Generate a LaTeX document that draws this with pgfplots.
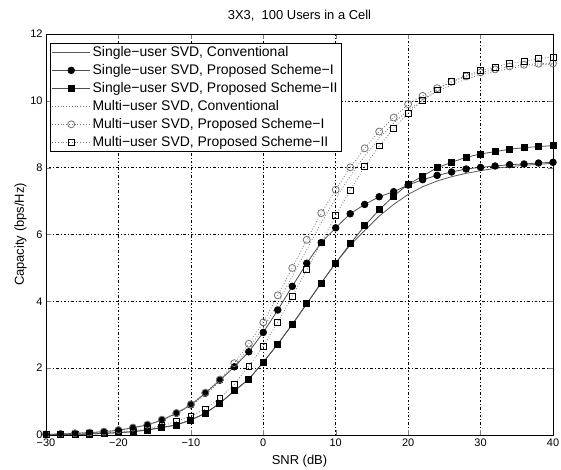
\documentclass[border=0pt]{standalone}
\usepackage{fontspec}
\setmainfont{Liberation Sans}
\usepackage{pgfplots}
\pgfplotsset{compat=1.18}
\begin{document}
\begin{tikzpicture}
\begin{axis}[
 scale only axis, width=507bp, height=401bp,
 xmin=-30, xmax=40, ymin=0, ymax=12,
 xtick={-30,-20,-10,0,10,20,30,40},
 xticklabels={−30,−20,−10,0,10,20,30,40},
 ytick={0,2,4,6,8,10,12},
 tick align=inside, major tick length=5bp,
 axis line style={black, line width=0.6pt},
 grid=major,
 grid style={black, line width=0.5pt, dash pattern=on 1pt off 2pt on 2.5pt off 2pt},
 ticklabel style={font=\fontsize{11}{13}\selectfont},
 /pgf/number format/assume math mode=true,
 title={3X3,\ \ 100 Users in a Cell},
 title style={font=\fontsize{13}{15}\selectfont, yshift=3bp},
 xlabel={SNR (dB)}, ylabel={Capacity (bps/Hz)},
 label style={font=\fontsize{13}{15}\selectfont},
 xlabel style={yshift=-2bp}, ylabel style={yshift=-3bp},
 legend style={at={(0.008,0.978)}, anchor=north west, draw=black, line width=0.6pt,
   font=\fontsize{14}{16}\selectfont, row sep=2.4pt, inner sep=1.5pt},
 legend cell align=left,
 legend image code/.code={\draw[mark repeat=2,mark phase=2,#1] plot coordinates {(0cm,0cm) (0.67cm,0cm) (1.34cm,0cm)};},
]
% Single-user SVD, Conventional
\addplot[black!65, line width=0.8pt, no markers] coordinates {
(-30,0.01) (-28,0.015) (-26,0.02) (-24,0.03) (-22,0.05) (-20,0.07) (-18,0.1) (-16,0.15) (-14,0.22) (-12,0.3)
(-10,0.45) (-8,0.65) (-6,0.95) (-4,1.32) (-2,1.67) (0,2.18) (2,2.72) (4,3.31) (6,3.93) (8,4.55)
(10,5.15) (12,5.68) (14,6.12) (16,6.55) (18,6.9) (20,7.2) (22,7.43) (24,7.6) (26,7.73) (28,7.83)
(30,7.91) (32,7.98) (34,8.03) (36,8.07) (38,8.1) (40,8.13)};
\addlegendentry{Single−user SVD, Conventional}
% Single-user SVD, Scheme-I
\addplot[black!70, line width=0.8pt, mark=*, mark size=3.3bp, mark options={fill=black, draw=black, solid}] coordinates {
(-30,0.02) (-28,0.03) (-26,0.05) (-24,0.07) (-22,0.1) (-20,0.14) (-18,0.22) (-16,0.3) (-14,0.45) (-12,0.65)
(-10,0.9) (-8,1.25) (-6,1.64) (-4,2.04) (-2,2.49) (0,3.07) (2,3.74) (4,4.45) (6,5.14) (8,5.76)
(10,6.2) (12,6.62) (14,6.9) (16,7.13) (18,7.28) (20,7.48) (22,7.64) (24,7.77) (26,7.87) (28,7.96)
(30,8.01) (32,8.05) (34,8.09) (36,8.11) (38,8.14) (40,8.16)};
\addlegendentry{Single−user SVD, Proposed Scheme−I}
% Single-user SVD, Scheme-II
\addplot[black!70, line width=0.8pt, mark=square*, mark size=3.0bp, mark options={fill=black, draw=black, solid}] coordinates {
(-30,0.01) (-28,0.015) (-26,0.02) (-24,0.03) (-22,0.05) (-20,0.07) (-18,0.1) (-16,0.15) (-14,0.23) (-12,0.3)
(-10,0.45) (-8,0.65) (-6,0.95) (-4,1.32) (-2,1.67) (0,2.18) (2,2.72) (4,3.31) (6,3.93) (8,4.55)
(10,5.15) (12,5.72) (14,6.26) (16,6.74) (18,7.15) (20,7.5) (22,7.75) (24,8.0) (26,8.16) (28,8.31)
(30,8.41) (32,8.48) (34,8.55) (36,8.6) (38,8.63) (40,8.66)};
\addlegendentry{Single−user SVD, Proposed Scheme−II}
% Multi-user SVD, Conventional
\addplot[black!55, line width=0.8pt, dotted, no markers] coordinates {
(-30,0.02) (-28,0.03) (-26,0.05) (-24,0.07) (-22,0.1) (-20,0.14) (-18,0.21) (-16,0.3) (-14,0.44) (-12,0.63)
(-10,0.88) (-8,1.2) (-6,1.6) (-4,2.05) (-2,2.6) (0,3.2) (2,3.95) (4,4.75) (6,5.55) (8,6.35)
(10,7.08) (12,7.75) (14,8.35) (16,8.88) (18,9.33) (20,9.72) (22,10.02) (24,10.28) (26,10.48) (28,10.65)
(30,10.78) (32,10.88) (34,10.97) (36,11.03) (38,11.07) (40,11.1)};
\addlegendentry{Multi−user SVD, Conventional}
% Multi-user SVD, Scheme-I
\addplot[black!55, line width=0.8pt, dotted, mark=o, mark size=3.5bp, mark options={draw=black!55, solid, line width=0.8pt}] coordinates {
(-30,0.02) (-28,0.03) (-26,0.05) (-24,0.07) (-22,0.1) (-20,0.15) (-18,0.22) (-16,0.31) (-14,0.46) (-12,0.66)
(-10,0.92) (-8,1.27) (-6,1.66) (-4,2.15) (-2,2.73) (0,3.37) (2,4.18) (4,5.0) (6,5.84) (8,6.64)
(10,7.34) (12,8.01) (14,8.58) (16,9.08) (18,9.5) (20,9.9) (22,10.15) (24,10.38) (26,10.57) (28,10.73)
(30,10.85) (32,10.94) (34,11.03) (36,11.08) (38,11.11) (40,11.12)};
\addlegendentry{Multi−user SVD, Proposed Scheme−I}
% Multi-user SVD, Scheme-II
\addplot[black!55, line width=0.8pt, dotted, mark=square, mark size=2.9bp, mark options={draw=black, solid, line width=0.8pt}] coordinates {
(-30,0.01) (-28,0.015) (-26,0.025) (-24,0.04) (-22,0.06) (-20,0.09) (-18,0.13) (-16,0.19) (-14,0.28) (-12,0.4)
(-10,0.57) (-8,0.78) (-6,1.1) (-4,1.52) (-2,2.06) (0,2.66) (2,3.37) (4,4.15) (6,4.95) (8,5.75)
(10,6.57) (12,7.33) (14,8.03) (16,8.65) (18,9.17) (20,9.63) (22,10.02) (24,10.33) (26,10.57) (28,10.75)
(30,10.9) (32,11.01) (34,11.12) (36,11.17) (38,11.27) (40,11.31)};
\addlegendentry{Multi−user SVD, Proposed Scheme−II}
\end{axis}
\pgfresetboundingbox
\path ([shift={(-46bp,-34bp)}]current axis.south west) rectangle ([shift={(8bp,34bp)}]current axis.north east);
\end{tikzpicture}
\end{document}
